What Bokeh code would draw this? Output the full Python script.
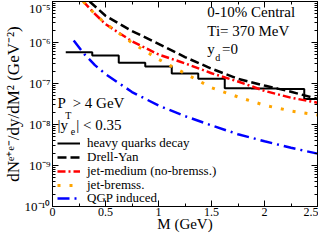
from bokeh.plotting import figure
from bokeh.models import (LinearAxis, LogAxis, Label, Legend, LegendItem,
                          SingleIntervalTicker, LogTicker, CustomJSTickFormatter)
from bokeh.embed import file_html
from bokeh.resources import INLINE

FONT = "Liberation Serif"

# ---------------- data ----------------
hq_edges = [0.125, 0.375, 0.625, 0.875, 1.125, 1.375, 1.625, 1.875, 2.125, 2.375, 2.5]
hq_vals = [5.8e-7, 4.8e-7, 3.2e-7, 2.6e-7, 1.75e-7, 1.3e-7, 7.7e-8, 7.5e-8, 7.3e-8, 4.2e-8]

dy_m = [0.35, 0.5, 0.75, 1.0, 1.25, 1.5, 1.75, 2.0, 2.25, 2.5]
dy_v = [1.0e-5, 4.5e-6, 1.9e-6, 9.3e-7, 4.4e-7, 2.3e-7, 1.3e-7, 8.9e-8, 6.3e-8, 4.2e-8]

jm_m = [0.29, 0.4, 0.5, 0.75, 1.0, 1.25, 1.5, 1.75, 2.0, 2.25, 2.5]
jm_v = [1.0e-5, 5.0e-6, 2.8e-6, 1.07e-6, 5.1e-7, 3.1e-7, 1.78e-7, 1.12e-7, 6.6e-8, 4.5e-8, 3.4e-8]

jb_m = [0.29, 0.4, 0.5, 0.75, 1.0, 1.25, 1.5, 1.75, 2.0, 2.25, 2.5]
jb_v = [1.0e-5, 4.9e-6, 2.9e-6, 9.8e-7, 3.9e-7, 1.76e-7, 7.9e-8, 4.7e-8, 2.95e-8, 2.14e-8, 1.7e-8]

qgp_m = [0.2, 0.3, 0.4, 0.5, 0.75, 1.0, 1.25, 1.5, 1.75, 2.0, 2.25, 2.5]
qgp_v = [1.12e-6, 5.2e-7, 2.8e-7, 1.7e-7, 6.2e-8, 2.9e-8, 1.6e-8, 9.5e-9, 5.8e-9, 3.9e-9, 2.7e-9, 1.95e-9]

x_tick_vals = [0, 0.5, 1, 1.5, 2, 2.5]
x_tick_labels = ["0", "0.5", "1", "1.5", "2", "2.5"]
y_tick_vals = [1e-10, 1e-9, 1e-8, 1e-7, 1e-6, 1e-5]
y_tick_labels = ["10\u207b\u00b9\u2070", "10\u207b\u2079", "10\u207b\u2078",
                 "10\u207b\u2077", "10\u207b\u2076", "10\u207b\u2075"]

legend_labels = ["heavy quarks decay", "Drell-Yan", "jet-medium (no-bremss.)",
                 "jet-bremss.", "QGP induced"]

# ---------------- figure ----------------
p = figure(width=318, height=234, x_range=(0, 2.5), y_range=(1e-10, 1e-5),
           y_axis_type="log", output_backend="svg", toolbar_location=None,
           min_border_left=40, min_border_top=1, min_border_right=1, min_border_bottom=0)
p.background_fill_color = "white"
p.border_fill_color = "white"
p.grid.visible = False
p.outline_line_color = "black"
p.outline_line_width = 1

hq_y = hq_vals + [hq_vals[-1]]
r_hq = p.step(hq_edges, hq_y, mode="after", line_color="black", line_width=2)
r_dy = p.line(dy_m, dy_v, line_color="black", line_width=2.5, line_dash="9 4")
r_jm = p.line(jm_m, jm_v, line_color="#ff0000", line_width=2.5, line_dash="8 3 2 3")
r_jb = p.line(jb_m, jb_v, line_color="#ffa500", line_width=3, line_dash="3 9")
r_qgp = p.line(qgp_m, qgp_v, line_color="#0000ff", line_width=2.5, line_dash="12 5 2 5")

# axes
xticker = SingleIntervalTicker(interval=0.5, num_minor_ticks=2)
yticker = LogTicker(desired_num_ticks=6, num_minor_ticks=10)
x_overrides = {v: l for v, l in zip(x_tick_vals, x_tick_labels)}
y_fmt = CustomJSTickFormatter(args=dict(vals=y_tick_vals, labels=y_tick_labels), code="""
for (let i = 0; i < vals.length; i++) {
  if (Math.abs(Math.log10(vals[i]) - Math.log10(tick)) < 1e-6) { return labels[i]; }
}
return '';
""")
empty_fmt = CustomJSTickFormatter(code="return '';")

xa = p.xaxis[0]
xa.ticker = xticker
xa.major_label_overrides = x_overrides
xa.axis_label = "M (GeV)"
ya = p.yaxis[0]
ya.ticker = yticker
ya.formatter = y_fmt
ya.axis_label = "dN\u1d49\u207a\u1d49\u207b/dy/dM\u00b2 (GeV\u207b\u00b2)"

top = LinearAxis(ticker=xticker, formatter=empty_fmt)
right = LogAxis(ticker=yticker, formatter=empty_fmt)
p.add_layout(top, "above")
p.add_layout(right, "right")

for ax in [xa, ya, top, right]:
    ax.major_tick_in = 6
    ax.major_tick_out = 0
    ax.minor_tick_in = 3
    ax.minor_tick_out = 0
    ax.axis_line_color = "black"
    ax.major_tick_line_color = "black"
    ax.minor_tick_line_color = "black"
    ax.major_label_text_font = FONT
    ax.major_label_text_color = "black"
    ax.axis_label_text_font = FONT
    ax.axis_label_text_font_style = "normal"
    ax.axis_label_text_color = "black"
for ax in [top, right]:
    ax.major_label_text_font_size = "0px"
    ax.major_label_standoff = 0
xa.major_label_text_font_size = "12px"
xa.major_label_standoff = 1
xa.axis_label_text_font_size = "15px"
xa.axis_label_standoff = -3
ya.major_label_text_font_size = "13px"
ya.major_label_standoff = 2
ya.axis_label_text_font_size = "17px"
ya.axis_label_standoff = -1

# legend: one single-entry legend per row, stacked from the frame bottom
renderers = [r_hq, r_dy, r_jm, r_jb, r_qgp]
row_bottoms = [55, 41, 27, 13.5, 0]
for lbl, r, b in zip(legend_labels, renderers, row_bottoms):
    leg = Legend(items=[LegendItem(label=lbl, renderers=[r])], location=(5, b),
                 padding=0, margin=0, spacing=0,
                 border_line_color=None, background_fill_alpha=0,
                 glyph_width=23, glyph_height=12, label_height=12, label_standoff=7,
                 label_text_font=FONT, label_text_font_size="13px",
                 label_text_color="black")
    p.add_layout(leg)

# annotations
def lab(x, y, t, size="15px"):
    p.add_layout(Label(x=x, y=y, text=t, text_font=FONT, text_font_size=size,
                       text_color="black", text_baseline="middle", text_align="left"))

lab(1.46, 5.4e-6, "0-10% Central")
lab(1.46, 1.92e-6, "Ti= 370  MeV")
lab(1.46, 7.1e-7, "y")
lab(1.535, 4.4e-7, "d", "10px")
lab(1.60, 7.1e-7, "=0")
lab(0.046, 3.4e-8, "P")
lab(0.12, 1.65e-8, "T", "10px")
lab(0.19, 3.4e-8, "> 4 GeV")
lab(0.046, 1.0e-8, "|y")
lab(0.173, 6.6e-9, "e", "10px")
lab(0.225, 1.0e-8, "| < 0.35")

open("out.html", "w").write(file_html(p, INLINE))
